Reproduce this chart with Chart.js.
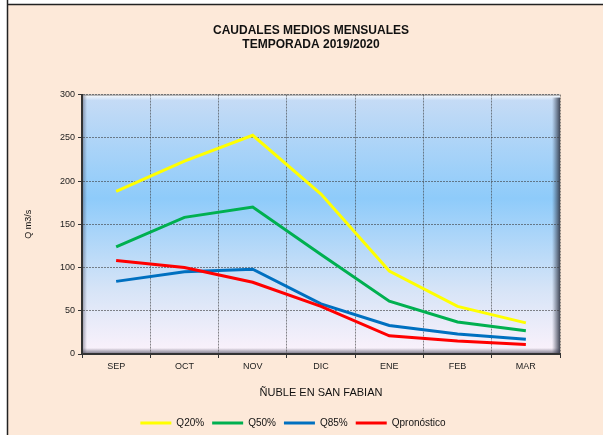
<!DOCTYPE html>
<html lang="es">
<head>
<meta charset="UTF-8">
<title>Caudales medios mensuales</title>
<script src="https://cdn.jsdelivr.net/npm/chart.js"></script>
<style>
    html, body { margin: 0; padding: 0; background: #fff; }
    canvas { display: block; }
</style>
</head>
<body>
<canvas id="myChart" width="603" height="435"></canvas>
<script>
    // datos
    const meses = ['SEP', 'OCT', 'NOV', 'DIC', 'ENE', 'FEB', 'MAR'];
    const q20 = [188, 223, 253, 185, 96, 55, 36];
    const q50 = [124, 158, 170, 115, 61, 37, 27];
    const q85 = [84, 95, 98, 58, 33, 23, 17];
    const qPronostico = [108, 100, 83, 55, 21, 15, 11];
    const yTicks = [0, 50, 100, 150, 200, 250, 300];

    const fuente = 'Arial, "Liberation Sans", sans-serif';

    // fondo del marco y del area de trazado (degradado + bisel)
    const fondo = {
        id: 'fondo',
        afterLayout(chart) {
            // el titulo y la leyenda van algo mas a la derecha que en el centro del area
            chart.titleBlock.left += 27;
            chart.titleBlock.right += 27;
            chart.legend.left += 9;
            chart.legend.right += 9;
        },
        beforeDraw(chart) {
            const ctx = chart.ctx;
            const w = chart.width, h = chart.height;
            ctx.save();
            ctx.fillStyle = '#ffffff';
            ctx.fillRect(0, 0, w, h);
            ctx.fillStyle = '#fde9d9';
            ctx.fillRect(8, 5, w - 8, h - 5);
            ctx.strokeStyle = '#222';
            ctx.lineWidth = 1.5;
            ctx.beginPath();
            ctx.moveTo(7.5, 0);
            ctx.lineTo(7.5, h);
            ctx.moveTo(7, 4.5);
            ctx.lineTo(w, 4.5);
            ctx.stroke();

            const a = chart.chartArea;
            const g = ctx.createLinearGradient(0, a.top, 0, a.bottom);
            g.addColorStop(0, '#c8dcf5');
            g.addColorStop(0.4, '#8ecbfa');
            g.addColorStop(0.75, '#d6e4f7');
            g.addColorStop(1, '#fcf2fb');
            ctx.fillStyle = g;
            ctx.fillRect(a.left, a.top, a.right - a.left, a.bottom - a.top);

            // brillo superior
            let b = ctx.createLinearGradient(0, a.top, 0, a.top + 6);
            b.addColorStop(0, 'rgba(255,255,255,0.95)');
            b.addColorStop(1, 'rgba(255,255,255,0)');
            ctx.fillStyle = b;
            ctx.fillRect(a.left, a.top, a.right - a.left, 6);
            // sombra derecha
            b = ctx.createLinearGradient(a.right - 8, 0, a.right, 0);
            b.addColorStop(0, 'rgba(60,70,90,0)');
            b.addColorStop(1, 'rgba(50,55,70,0.9)');
            ctx.fillStyle = b;
            ctx.fillRect(a.right - 8, a.top + 3, 8, a.bottom - a.top - 3);
            // sombra inferior
            b = ctx.createLinearGradient(0, a.bottom - 6, 0, a.bottom);
            b.addColorStop(0, 'rgba(60,60,80,0)');
            b.addColorStop(1, 'rgba(60,60,80,0.7)');
            ctx.fillStyle = b;
            ctx.fillRect(a.left, a.bottom - 6, a.right - a.left, 6);
            // sombra izquierda
            b = ctx.createLinearGradient(a.left, 0, a.left + 5, 0);
            b.addColorStop(0, 'rgba(60,60,80,0.5)');
            b.addColorStop(1, 'rgba(60,60,80,0)');
            ctx.fillStyle = b;
            ctx.fillRect(a.left, a.top, 5, a.bottom - a.top);
            // borde superior
            ctx.strokeStyle = '#8a8a8a';
            ctx.lineWidth = 1;
            ctx.beginPath();
            ctx.moveTo(a.left, a.top + 0.5);
            ctx.lineTo(a.right, a.top + 0.5);
            ctx.stroke();
            ctx.restore();
        }
    };

    const serie = (label, data, color, order) => ({
        label: label,
        data: data,
        borderColor: color,
        backgroundColor: color,
        borderWidth: 3,
        pointRadius: 0,
        tension: 0,
        fill: false,
        order: order
    });

    const ctx = document.getElementById('myChart').getContext('2d');
    new Chart(ctx, {
        type: 'line',
        data: {
            labels: meses,
            datasets: [
                serie('Q20%', q20, '#ffff00', 4),
                serie('Q50%', q50, '#00b050', 3),
                serie('Q85%', q85, '#0070c0', 2),
                serie('Qpronóstico', qPronostico, '#ff0000', 1)
            ]
        },
        plugins: [fondo],
        options: {
            responsive: false,
            animation: false,
            devicePixelRatio: 1,
            layout: { padding: { left: 8, right: 43, top: 0, bottom: -3 } },
            plugins: {
                title: {
                    display: true,
                    text: ['CAUDALES MEDIOS MENSUALES', 'TEMPORADA 2019/2020'],
                    color: '#111',
                    font: { family: fuente, size: 12, weight: 'bold', lineHeight: 1.15 },
                    padding: { top: 24, bottom: 43 }
                },
                legend: {
                    position: 'bottom',
                    labels: {
                        usePointStyle: true,
                        pointStyle: 'line',
                        pointStyleWidth: 31,
                        boxHeight: 10,
                        padding: 8,
                        color: '#111',
                        font: { family: fuente, size: 10 },
                        sort: (a, b) => a.datasetIndex - b.datasetIndex
                    }
                },
                tooltip: { enabled: false }
            },
            scales: {
                x: {
                    offset: true,
                    grid: {
                        offset: true,
                        color: 'rgba(60,60,60,0.6)',
                        tickColor: '#333',
                        tickLength: 4
                    },
                    border: { color: '#333', width: 2, dash: [2, 1] },
                    ticks: {
                        color: '#222',
                        padding: 3,
                        maxRotation: 0,
                        font: { family: fuente, size: 9 }
                    },
                    title: {
                        display: true,
                        text: 'ÑUBLE EN SAN FABIAN',
                        color: '#111',
                        font: { family: fuente, size: 11 },
                        padding: { top: 12, bottom: 10 }
                    }
                },
                y: {
                    min: 0,
                    max: 300,
                    afterFit(scale) { scale.width = 74; },
                    afterBuildTicks(scale) { scale.ticks = yTicks.map(v => ({ value: v })); },
                    grid: {
                        color: 'rgba(60,60,60,0.6)',
                        tickColor: '#333',
                        tickLength: 4
                    },
                    border: { color: '#333', width: 2, dash: [2, 1] },
                    ticks: {
                        color: '#222',
                        padding: 3,
                        font: { family: fuente, size: 9 }
                    },
                    title: {
                        display: true,
                        text: 'Q m3/s',
                        color: '#111',
                        font: { family: fuente, size: 9 },
                        padding: { top: 15, bottom: 0 }
                    }
                }
            }
        }
    });
</script>
</body>
</html>
